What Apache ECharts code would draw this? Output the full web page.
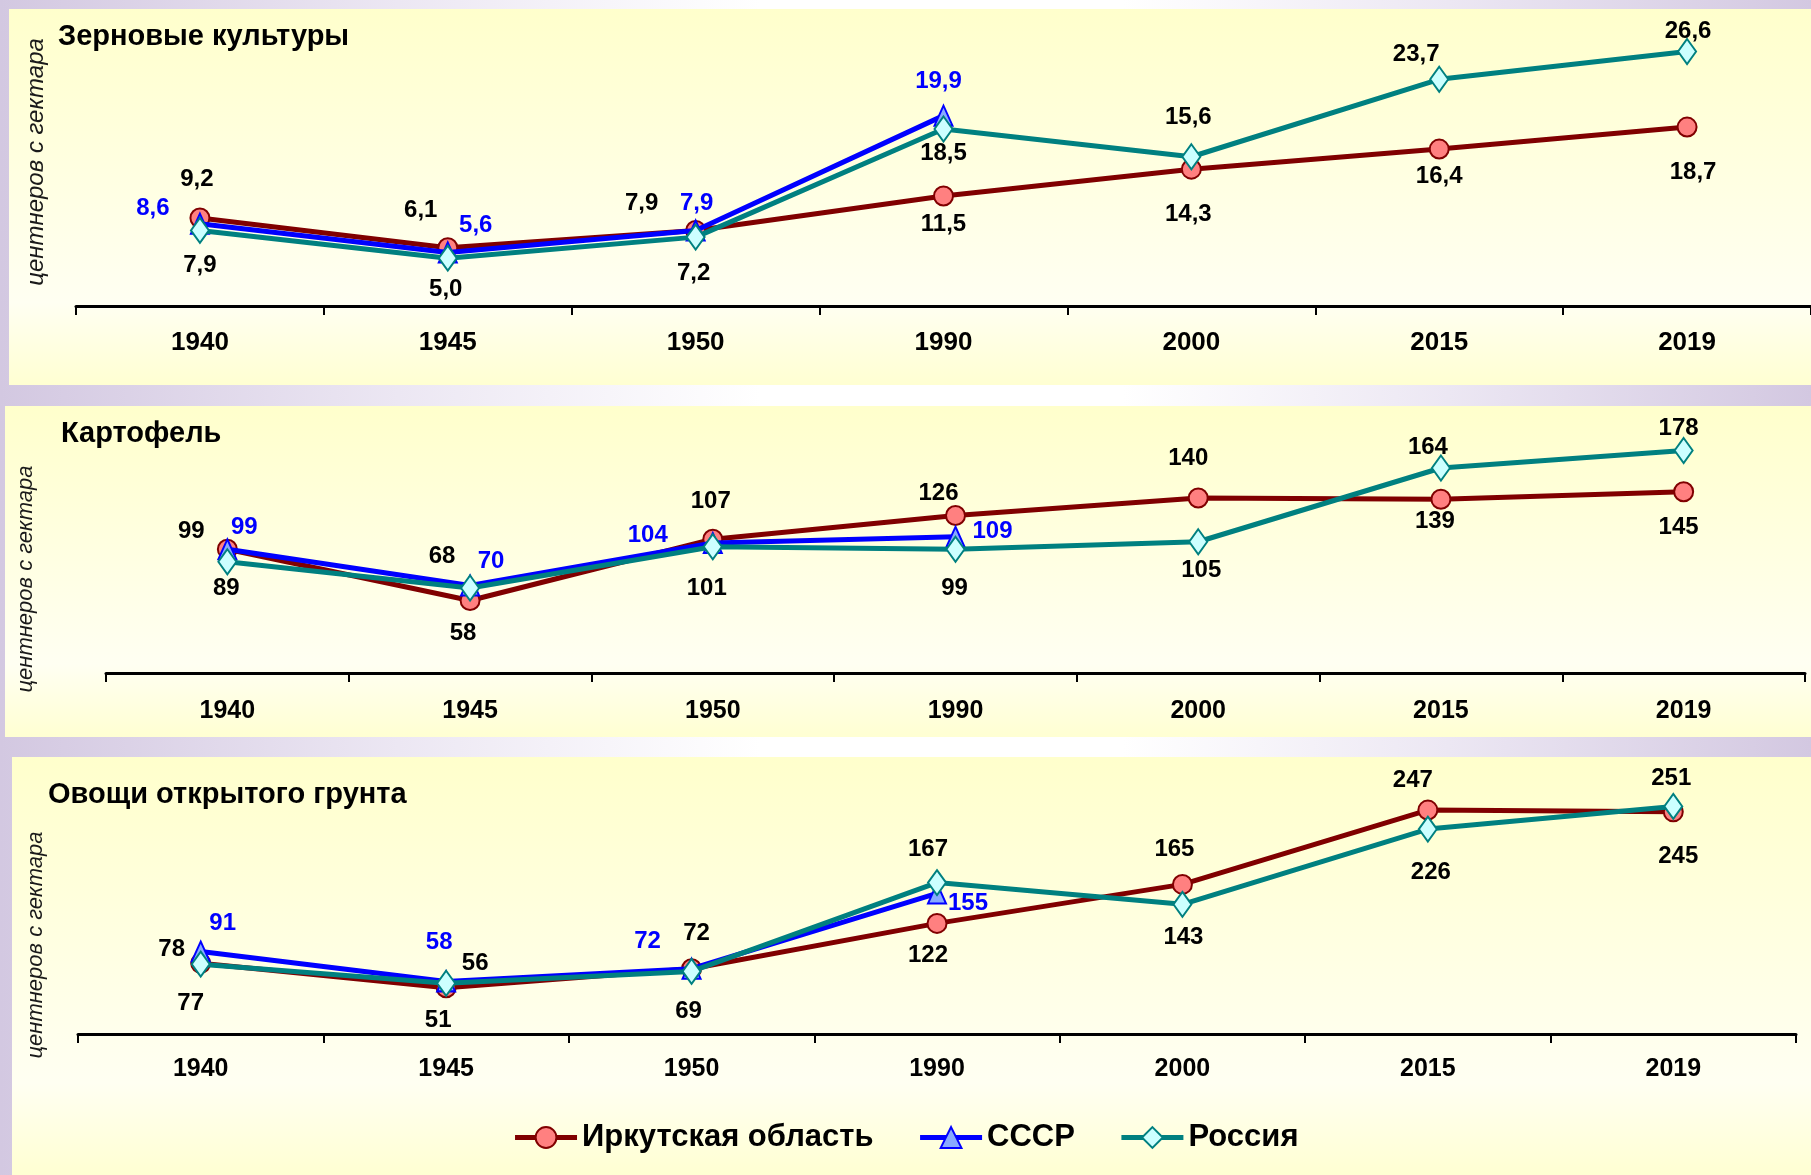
<!DOCTYPE html>
<html>
<head>
<meta charset="utf-8">
<script src="https://cdn.jsdelivr.net/npm/echarts@6/dist/echarts.min.js"></script>
<style>
html,body{margin:0;padding:0;}
#c{width:1811px;height:1175px;background:linear-gradient(to right,#d3c8e1 0%,#ece7f3 22%,#ffffff 42%,#ffffff 62%,#ece7f3 80%,#d3c8e1 100%);}
</style>
</head>
<body>
<div id="c"></div>
<script>
// ---- data ----
const years = ['1940', '1945', '1950', '1990', '2000', '2015', '2019'];
const seriesNames = ['Иркутская область', 'СССР', 'Россия'];
const panelTitles = ['Зерновые культуры', 'Картофель', 'Овощи открытого грунта'];
const axisName = 'центнеров с гектара';

const grainIrk = [9.2, 6.1, 7.9, 11.5, 14.3, 16.4, 18.7];
const grainUssr = [8.6, 5.6, 7.9, 19.9];
const grainRus = [7.9, 5.0, 7.2, 18.5, 15.6, 23.7, 26.6];

const potIrk = [99, 58, 107, 126, 140, 139, 145];
const potUssr = [99, 70, 104, 109];
const potRus = [89, 68, 101, 99, 105, 164, 178];

const vegIrk = [78, 51, 72, 122, 165, 247, 245];
const vegUssr = [91, 58, 72, 155];
const vegRus = [77, 56, 69, 167, 143, 226, 251];

// ---- label placement (style only: offsets of label centre from point, px) ----
const offGrainIrk = [[-3,-39],[-27,-37],[-54,-27],[0,28],[-3,45],[0,27],[6,45]];
const offGrainUssr = [[-47,-15],[28,-27],[1,-27],[-5,-34]];
const offGrainRus = [[0,35],[-2,31],[-2,36],[0,24],[-3,-39],[-23,-25],[1,-20]];
const offPotIrk = [[-36,-18],[-7,33],[-2,-38],[-17,-22],[-10,-40],[-6,22],[-5,36]];
const offPotUssr = [[17,-22],[21,-24],[-65,-8],[37,-5]];
const offPotRus = [[-1,27],[-28,-32],[-6,42],[-1,39],[3,29],[-13,-21],[-5,-22]];
const offVegIrk = [[-29,-14],[-8,33],[5,-35],[-9,32],[-8,-35],[-15,-30],[5,45]];
const offVegUssr = [[22,-28],[-7,-39],[-44,-27],[31,10]];
const offVegRus = [[-10,39],[29,-20],[-3,40],[-9,-33],[1,33],[3,43],[-2,-28]];

const FONT = '"Liberation Sans", Arial, Helvetica, sans-serif';

const chart = echarts.init(document.getElementById('c'), null, {renderer: 'canvas'});

const panels = [
  {x: 9, y: 9, w: 1802, h: 376},
  {x: 5, y: 406, w: 1806, h: 331},
  {x: 12, y: 757, w: 1799, h: 418}
];
const grids = [
  {left: 76, top: 19, width: 1744, height: 287},
  {left: 106, top: 423, width: 1699, height: 250},
  {left: 78, top: 762, width: 1718, height: 272}
];
const yMax = [30, 200, 300];
const labelMargins = [24, 26, 23];
const tickFont = [26, 25, 25];
const titlePos = [{left: 58, top: 22}, {left: 61, top: 419}, {left: 48, top: 780}];
const namePos = [{x: 36, y: 162, s: 24}, {x: 26, y: 579, s: 22}, {x: 36, y: 945, s: 22}];

const styles = [
  {line: '#800000', fill: '#ff8080', border: '#800000', symbol: 'circle', size: 19},
  {line: '#0000ff', fill: '#88aaff', border: '#0000ff', symbol: 'triangle', size: [18, 20]},
  {line: '#008080', fill: '#ccffff', border: '#008080', symbol: 'diamond', size: [18, 25]}
];
const labelColors = ['#000000', '#0000ff', '#000000'];

const panelData = [
  [grainIrk, grainUssr, grainRus],
  [potIrk, potUssr, potRus],
  [vegIrk, vegUssr, vegRus]
];
const panelOffsets = [
  [offGrainIrk, offGrainUssr, offGrainRus],
  [offPotIrk, offPotUssr, offPotRus],
  [offVegIrk, offVegUssr, offVegRus]
];

const series = [];
panelData.forEach((sets, p) => {
  sets.forEach((vals, s) => {
    const st = styles[s];
    series.push({
      name: seriesNames[s],
      type: 'line',
      xAxisIndex: p,
      yAxisIndex: p,
      symbol: st.symbol,
      symbolSize: st.size,
      lineStyle: {color: st.line, width: 5},
      itemStyle: {color: st.fill, borderColor: st.border, borderWidth: 2},
      z: 2 + s,
      data: vals.map((v, i) => ({
        value: v,
        label: {offset: panelOffsets[p][s][i]}
      })),
      label: {
        show: true,
        position: 'inside',
        color: labelColors[s],
        fontFamily: FONT,
        fontWeight: 'bold',
        fontSize: 24,
        formatter: (prm) => p === 0 ? prm.value.toFixed(1).replace('.', ',') : String(prm.value)
      },
      emphasis: {disabled: true}
    });
  });
});

const graphic = [];
panels.forEach((r) => {
  graphic.push({
    type: 'rect', z: -10, silent: true,
    shape: {x: r.x, y: r.y, width: r.w, height: r.h},
    style: {fill: new echarts.graphic.LinearGradient(0, 0, 0, 1, [
      {offset: 0, color: '#ffffcc'},
      {offset: 0.78, color: '#fffff2'},
      {offset: 1, color: '#ffffd2'}
    ])}
  });
});
namePos.forEach((n) => {
  graphic.push({
    type: 'text', z: 100, x: n.x, y: n.y, rotation: Math.PI / 2,
    style: {text: axisName, fontFamily: FONT, fontStyle: 'italic', fontSize: n.s,
      fill: '#1a1a1a', align: 'center', verticalAlign: 'middle'}
  });
});

chart.setOption({
  animation: false,
  backgroundColor: 'transparent',
  textStyle: {fontFamily: FONT},
  title: panelTitles.map((t, i) => ({
    text: t, left: titlePos[i].left, top: titlePos[i].top, padding: 0,
    textStyle: {fontFamily: FONT, fontWeight: 'bold', fontSize: 29, color: '#000'}
  })),
  legend: {
    data: seriesNames,
    left: 'center', top: 1122, padding: 0,
    itemWidth: 62, itemHeight: 26, itemGap: 44,
    lineStyle: {width: 5},
    itemStyle: {borderWidth: 2},
    textStyle: {fontFamily: FONT, fontWeight: 'bold', fontSize: 31, color: '#000'},
    selectedMode: false
  },
  grid: grids.map(g => Object.assign({containLabel: false}, g)),
  xAxis: grids.map((g, i) => ({
    type: 'category', gridIndex: i, data: years, boundaryGap: true,
    axisLine: {show: true, lineStyle: {color: '#000', width: 3}},
    axisTick: {show: true, length: 9, lineStyle: {color: '#000', width: 2}},
    axisLabel: {margin: labelMargins[i], color: '#000', fontFamily: FONT, fontWeight: 'bold', fontSize: tickFont[i]},
    splitLine: {show: false}
  })),
  yAxis: grids.map((g, i) => ({
    type: 'value', gridIndex: i, min: 0, max: yMax[i], show: false,
    splitLine: {show: false}
  })),
  graphic: graphic,
  series: series
});
</script>
</body>
</html>
